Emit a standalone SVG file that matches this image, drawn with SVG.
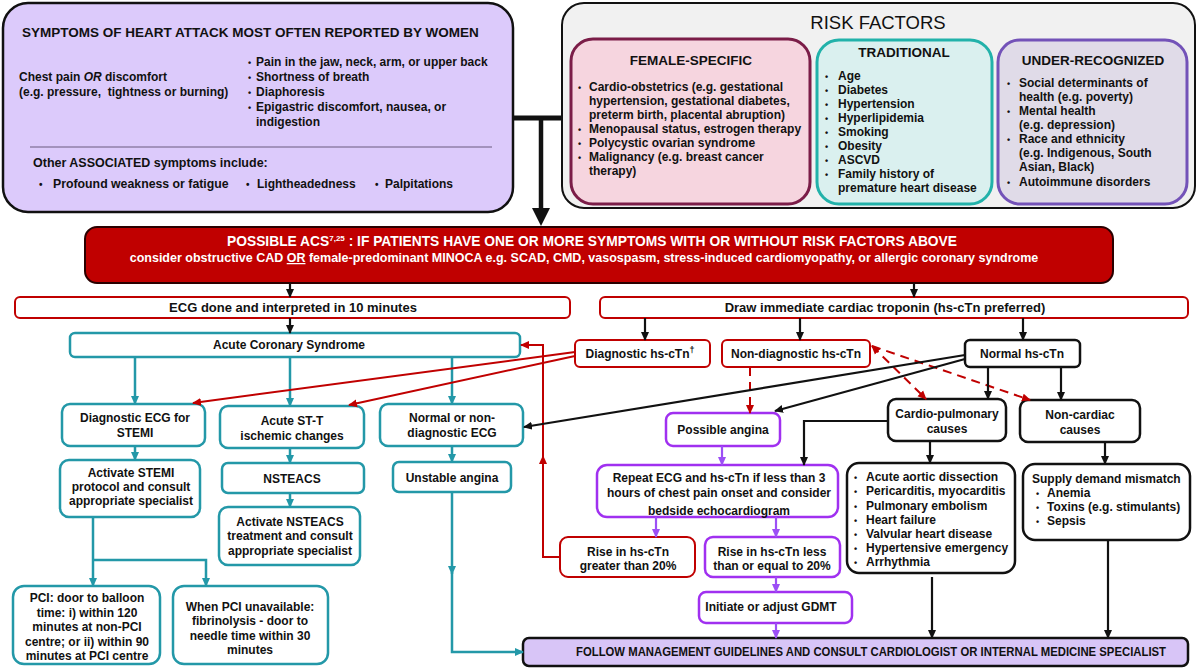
<svg xmlns="http://www.w3.org/2000/svg" width="1200" height="669" viewBox="0 0 1200 669">
<style>
text{font-family:"Liberation Sans",Arial,Helvetica,sans-serif;font-weight:bold;fill:#111;font-size:12px}
.m{text-anchor:middle}
.w{fill:#fff}
.bt{fill:#fff;stroke:#2398a8;stroke-width:2.5}
.br{fill:#fff;stroke:#c00000;stroke-width:2}
.bk{fill:#fff;stroke:#111;stroke-width:2.5}
.bp{fill:#fff;stroke:#a030f0;stroke-width:2.5}
.ct{fill:none;stroke:#2398a8;stroke-width:2.5}
.cr{fill:none;stroke:#c00000;stroke-width:2}
.ck{fill:none;stroke:#111;stroke-width:2.2}
.cp{fill:none;stroke:#9c4ff5;stroke-width:2.2}
.dash{stroke-dasharray:9,6}
</style>
<defs>
<marker id="ak" markerUnits="userSpaceOnUse" markerWidth="9" markerHeight="9" refX="8" refY="4.5" orient="auto"><path d="M0,0.5 L9,4.5 L0,8.5 z" fill="#111"/></marker>
<marker id="at" markerUnits="userSpaceOnUse" markerWidth="9" markerHeight="9" refX="8" refY="4.5" orient="auto"><path d="M0,0.5 L9,4.5 L0,8.5 z" fill="#2398a8"/></marker>
<marker id="ar" markerUnits="userSpaceOnUse" markerWidth="9" markerHeight="9" refX="8" refY="4.5" orient="auto"><path d="M0,0.5 L9,4.5 L0,8.5 z" fill="#c00000"/></marker>
<marker id="ars" markerUnits="userSpaceOnUse" markerWidth="9" markerHeight="9" refX="8" refY="4.5" orient="auto-start-reverse"><path d="M0,0.5 L9,4.5 L0,8.5 z" fill="#c00000"/></marker>
<marker id="ap" markerUnits="userSpaceOnUse" markerWidth="9" markerHeight="9" refX="8" refY="4.5" orient="auto"><path d="M0,0.5 L9,4.5 L0,8.5 z" fill="#9c4ff5"/></marker>
</defs>
<rect width="1200" height="669" fill="#fff"/>

<g id="symptoms">
<rect x="3" y="3" width="510" height="209" rx="25" fill="#dccafb" stroke="#111" stroke-width="2.5"/>
<text x="22" y="37" style="font-size:13.5px">SYMPTOMS OF HEART ATTACK MOST OFTEN REPORTED BY WOMEN</text>
<text x="19" y="81">Chest pain <tspan font-style="italic">OR</tspan> discomfort</text>
<text x="19" y="96" xml:space="preserve">(e.g. pressure,  tightness or burning)</text>
<text x="248" y="66" style="font-size:9px">•</text><text x="256" y="66">Pain in the jaw, neck, arm, or upper back</text>
<text x="248" y="81" style="font-size:9px">•</text><text x="256" y="81">Shortness of breath</text>
<text x="248" y="96" style="font-size:9px">•</text><text x="256" y="96">Diaphoresis</text>
<text x="248" y="111" style="font-size:9px">•</text><text x="256" y="111">Epigastric discomfort, nausea, or</text>
<text x="256" y="126">indigestion</text>
<line x1="30" y1="147" x2="492" y2="147" stroke="#6a5a7e" stroke-width="1"/>
<text x="33" y="167" style="font-size:12.5px">Other ASSOCIATED symptoms include:</text>
<text x="39" y="188" style="font-size:10px">•</text><text x="53" y="188" style="font-size:12.3px">Profound weakness or fatigue</text>
<text x="246" y="188" style="font-size:10px">•</text><text x="257" y="188">Lightheadedness</text>
<text x="375" y="188" style="font-size:10px">•</text><text x="385" y="188">Palpitations</text>
</g>

<g id="risk-factors">
<rect x="562" y="3" width="633" height="205" rx="22" fill="#f1f1f1" stroke="#111" stroke-width="2"/>
<text x="878" y="29" class="m" style="font-size:18.5px;font-weight:normal">RISK FACTORS</text>
</g>
<g id="female-specific">
<rect x="571" y="39" width="239" height="165" rx="22" fill="#f6d5df" stroke="#7b1d48" stroke-width="3"/>
<text x="691" y="65" class="m" style="font-size:13.5px">FEMALE-SPECIFIC</text>
<text x="578" y="91" style="font-size:9px">•</text><text x="589" y="91">Cardio-obstetrics (e.g. gestational</text>
<text x="589" y="105">hypertension, gestational diabetes,</text>
<text x="589" y="119">preterm birth, placental abruption)</text>
<text x="578" y="133" style="font-size:9px">•</text><text x="589" y="133">Menopausal status, estrogen therapy</text>
<text x="578" y="147" style="font-size:9px">•</text><text x="589" y="147">Polycystic ovarian syndrome</text>
<text x="578" y="161" style="font-size:9px">•</text><text x="589" y="161">Malignancy (e.g. breast cancer</text>
<text x="589" y="175">therapy)</text>
</g>
<g id="traditional">
<rect x="817" y="40" width="175" height="164" rx="22" fill="#daf0ef" stroke="#22b2aa" stroke-width="3"/>
<text x="904" y="57" class="m" style="font-size:13.5px">TRADITIONAL</text>
<text x="825" y="80" style="font-size:9px">•</text><text x="838" y="80">Age</text>
<text x="825" y="94" style="font-size:9px">•</text><text x="838" y="94">Diabetes</text>
<text x="825" y="108" style="font-size:9px">•</text><text x="838" y="108">Hypertension</text>
<text x="825" y="122" style="font-size:9px">•</text><text x="838" y="122">Hyperlipidemia</text>
<text x="825" y="136" style="font-size:9px">•</text><text x="838" y="136">Smoking</text>
<text x="825" y="150" style="font-size:9px">•</text><text x="838" y="150">Obesity</text>
<text x="825" y="164" style="font-size:9px">•</text><text x="838" y="164">ASCVD</text>
<text x="825" y="178" style="font-size:9px">•</text><text x="838" y="178">Family history of</text>
<text x="838" y="192">premature heart disease</text>
</g>
<g id="under-recognized">
<rect x="998" y="40" width="189" height="164" rx="22" fill="#e0dbe8" stroke="#7352b8" stroke-width="3"/>
<text x="1093" y="65" class="m" style="font-size:13.5px">UNDER-RECOGNIZED</text>
<text x="1007" y="87" style="font-size:9px">•</text><text x="1019" y="87">Social determinants of</text>
<text x="1019" y="101">health (e.g. poverty)</text>
<text x="1007" y="115" style="font-size:9px">•</text><text x="1019" y="115">Mental health</text>
<text x="1019" y="129">(e.g. depression)</text>
<text x="1007" y="143" style="font-size:9px">•</text><text x="1019" y="143">Race and ethnicity</text>
<text x="1019" y="157">(e.g. Indigenous, South</text>
<text x="1019" y="171">Asian, Black)</text>
<text x="1007" y="186" style="font-size:9px">•</text><text x="1019" y="186">Autoimmune disorders</text>
</g>

<g id="possible-acs">
<rect x="85" y="227" width="1028" height="56" rx="12" fill="#c00000" stroke="#2a0000" stroke-width="2"/>
<text x="592" y="246" class="m w" style="font-size:13.8px">POSSIBLE ACS<tspan style="font-size:8px" dy="-5">7,25</tspan><tspan dy="5"> : IF PATIENTS HAVE ONE OR MORE SYMPTOMS WITH OR WITHOUT RISK FACTORS ABOVE</tspan></text>
<text x="584" y="262" class="m w" style="font-size:12.5px">consider obstructive CAD <tspan text-decoration="underline">OR</tspan> female-predominant MINOCA e.g. SCAD, CMD, vasospasm, stress-induced cardiomyopathy, or allergic coronary syndrome</text>
</g>

<g id="ecg"><rect x="15" y="297" width="555" height="21" rx="5" class="br"/><text x="293" y="312" class="m" style="font-size:13px">ECG done and interpreted in 10 minutes</text></g>
<g id="troponin"><rect x="600" y="297" width="588" height="21" rx="5" class="br"/><text x="885" y="312" class="m" style="font-size:13px">Draw immediate cardiac troponin (hs-cTn preferred)</text></g>

<g id="acs"><rect x="70" y="333" width="450" height="24" rx="5" class="bt"/><text x="289" y="349" class="m">Acute Coronary Syndrome</text></g>
<g id="diag-ecg"><rect x="62" y="404" width="143" height="42" rx="8" class="bt"/><text x="135" y="422" class="m">Diagnostic ECG for</text><text x="135" y="437" class="m">STEMI</text></g>
<g id="acute-st"><rect x="220" y="406" width="144" height="42" rx="8" class="bt"/><text x="292" y="425" class="m">Acute ST-T</text><text x="292" y="440" class="m">ischemic changes</text></g>
<g id="normal-ecg"><rect x="380" y="404" width="143" height="42" rx="8" class="bt"/><text x="452" y="422" class="m">Normal or non-</text><text x="452" y="437" class="m">diagnostic ECG</text></g>
<g id="activate-stemi"><rect x="60" y="460" width="140" height="57" rx="9" class="bt"/><text x="131" y="477" class="m">Activate STEMI</text><text x="131" y="491" class="m">protocol and consult</text><text x="131" y="505" class="m">appropriate specialist</text></g>
<g id="nsteacs"><rect x="222" y="463" width="142" height="30" rx="6" class="bt"/><text x="292" y="483" class="m">NSTEACS</text></g>
<g id="unstable"><rect x="393" y="462" width="118" height="30" rx="6" class="bt"/><text x="452" y="482" class="m">Unstable angina</text></g>
<g id="activate-nsteacs"><rect x="219" y="507" width="141" height="58" rx="9" class="bt"/><text x="290" y="526" class="m">Activate NSTEACS</text><text x="290" y="540" class="m">treatment and consult</text><text x="290" y="555" class="m">appropriate specialist</text></g>
<g id="pci"><rect x="13" y="586" width="147" height="78" rx="11" class="bt"/><text x="87" y="602" class="m">PCI: door to balloon</text><text x="87" y="617" class="m">time: i) within 120</text><text x="87" y="631" class="m">minutes at non-PCI</text><text x="87" y="646" class="m">centre; or ii) within 90</text><text x="87" y="660" class="m">minutes at PCI centre</text></g>
<g id="fibrinolysis"><rect x="173" y="586" width="155" height="78" rx="11" class="bt"/><text x="250" y="611" class="m">When PCI unavailable:</text><text x="250" y="625" class="m">fibrinolysis - door to</text><text x="250" y="640" class="m">needle time within 30</text><text x="250" y="654" class="m">minutes</text></g>

<g id="diag-tn"><rect x="575" y="340" width="135" height="27" rx="5" class="br"/><text x="640" y="358" class="m">Diagnostic hs-cTn<tspan style="font-size:9px" dy="-5">†</tspan></text></g>
<g id="nondiag-tn"><rect x="722" y="340" width="148" height="27" rx="5" class="br"/><text x="796" y="358" class="m">Non-diagnostic hs-cTn</text></g>
<g id="normal-tn"><rect x="965" y="340" width="115" height="27" rx="5" class="bk"/><text x="1022" y="358" class="m">Normal hs-cTn</text></g>
<g id="cardiopulm"><rect x="888" y="399" width="118" height="42" rx="8" class="bk"/><text x="947" y="418" class="m">Cardio-pulmonary</text><text x="947" y="433" class="m">causes</text></g>
<g id="noncardiac"><rect x="1020" y="400" width="120" height="42" rx="8" class="bk"/><text x="1080" y="419" class="m">Non-cardiac</text><text x="1080" y="434" class="m">causes</text></g>
<g id="possible-angina"><rect x="666" y="413" width="114" height="33" rx="7" class="bp"/><text x="723" y="434" class="m">Possible angina</text></g>
<g id="repeat"><rect x="597" y="465" width="241" height="52" rx="10" class="bp"/><text x="719" y="482" class="m">Repeat ECG and hs-cTn if less than 3</text><text x="719" y="497" class="m">hours of chest pain onset and consider</text><text x="719" y="515" class="m">bedside echocardiogram</text></g>
<g id="rise-gt"><rect x="560" y="537" width="135" height="40" rx="8" class="br"/><text x="628" y="556" class="m">Rise in hs-cTn</text><text x="628" y="570" class="m">greater than 20%</text></g>
<g id="rise-le"><rect x="705" y="537" width="135" height="40" rx="8" class="bp"/><text x="772" y="556" class="m">Rise in hs-cTn less</text><text x="772" y="570" class="m">than or equal to 20%</text></g>
<g id="gdmt"><rect x="699" y="592" width="153" height="31" rx="7" class="bp"/><text x="771" y="611" class="m">Initiate or adjust GDMT</text></g>
<g id="cardio-list"><rect x="847" y="463" width="168" height="110" rx="12" class="bk"/>
<text x="854" y="481" style="font-size:9px">•</text><text x="866" y="481">Acute aortic dissection</text>
<text x="854" y="495" style="font-size:9px">•</text><text x="866" y="495">Pericarditis, myocarditis</text>
<text x="854" y="510" style="font-size:9px">•</text><text x="866" y="510">Pulmonary embolism</text>
<text x="854" y="524" style="font-size:9px">•</text><text x="866" y="524">Heart failure</text>
<text x="854" y="538" style="font-size:9px">•</text><text x="866" y="538">Valvular heart disease</text>
<text x="854" y="552" style="font-size:9px">•</text><text x="866" y="552">Hypertensive emergency</text>
<text x="854" y="566" style="font-size:9px">•</text><text x="866" y="566">Arrhythmia</text>
</g>
<g id="noncardiac-list"><rect x="1023" y="464" width="167" height="76" rx="12" class="bk"/>
<text x="1032" y="483">Supply demand mismatch</text>
<text x="1036" y="497" style="font-size:9px">•</text><text x="1047" y="497">Anemia</text>
<text x="1036" y="511" style="font-size:9px">•</text><text x="1047" y="511">Toxins (e.g. stimulants)</text>
<text x="1036" y="525" style="font-size:9px">•</text><text x="1047" y="525">Sepsis</text>
</g>
<g id="follow"><rect x="523" y="638" width="665" height="28" rx="6" fill="#d8c5f7" stroke="#111" stroke-width="2.5"/><text x="871" y="656" class="m" style="font-size:12px" textLength="590" lengthAdjust="spacingAndGlyphs">FOLLOW MANAGEMENT GUIDELINES AND CONSULT CARDIOLOGIST OR INTERNAL MEDICINE SPECIALIST</text></g>

<g id="connectors">
<path d="M513,118 H563" stroke="#111" stroke-width="5" fill="none"/>
<path d="M541,118 V210" stroke="#111" stroke-width="4.5" fill="none"/>
<path d="M532,208 L550,208 L541,226 z" fill="#111"/>
<path d="M290,283 V297" class="ck" marker-end="url(#ak)"/>
<path d="M914,283 V297" class="ck" marker-end="url(#ak)"/>
<path d="M290,318 V333" class="ck" marker-end="url(#ak)"/>
<path d="M645,318 V340" class="ck" marker-end="url(#ak)"/>
<path d="M800,318 V340" class="ck" marker-end="url(#ak)"/>
<path d="M1023,318 V340" class="ck" marker-end="url(#ak)"/>
<path d="M135,357 V404" class="ct" marker-end="url(#at)"/>
<path d="M290,357 V406" class="ct" marker-end="url(#at)"/>
<path d="M452,357 V404" class="ct" marker-end="url(#at)"/>
<path d="M135,446 V460" class="ct" marker-end="url(#at)"/>
<path d="M290,448 V463" class="ct" marker-end="url(#at)"/>
<path d="M452,446 V462" class="ct" marker-end="url(#at)"/>
<path d="M290,493 V507" class="ct" marker-end="url(#at)"/>
<path d="M93,517 V586" class="ct" marker-end="url(#at)"/>
<path d="M93,560 H206 V586" class="ct" marker-end="url(#at)"/>
<path d="M452,492 V574" class="ct" marker-end="url(#at)"/>
<path d="M452,572 V652 H523" class="ct" marker-end="url(#at)"/>
<path d="M575,352 L193,403" class="cr" marker-end="url(#ar)"/>
<path d="M575,356 L349,405" class="cr" marker-end="url(#ar)"/>
<path d="M560,557 H543 V456" class="cr" marker-end="url(#ar)"/>
<path d="M543,460 V345 H521" class="cr" marker-end="url(#ar)"/>
<path d="M750,367 V413" class="cr dash" marker-end="url(#ar)"/>
<path d="M872,346 L926,399" class="cr dash" marker-start="url(#ars)" marker-end="url(#ar)"/>
<path d="M872,346 L1030,400" class="cr dash" marker-end="url(#ar)"/>
<path d="M965,355 L524,427" class="ck" marker-end="url(#ak)"/>
<path d="M965,359 L775,411" class="ck" marker-end="url(#ak)"/>
<path d="M988,367 V399" class="ck" marker-end="url(#ak)"/>
<path d="M1061,367 V400" class="ck" marker-end="url(#ak)"/>
<path d="M888,421 H804 V465" class="ck" marker-end="url(#ak)"/>
<path d="M930,441 V463" class="ck" marker-end="url(#ak)"/>
<path d="M1105,442 V464" class="ck" marker-end="url(#ak)"/>
<path d="M932,577 V638" class="ck" marker-end="url(#ak)"/>
<path d="M1108,540 V638" class="ck" marker-end="url(#ak)"/>
<path d="M722,446 V465" class="cp" marker-end="url(#ap)"/>
<path d="M656,517 V537" class="cp" marker-end="url(#ap)"/>
<path d="M776,517 V537" class="cp" marker-end="url(#ap)"/>
<path d="M776,577 V592" class="cp" marker-end="url(#ap)"/>
<path d="M776,623 V638" class="cp" marker-end="url(#ap)"/>
</g>
</svg>
